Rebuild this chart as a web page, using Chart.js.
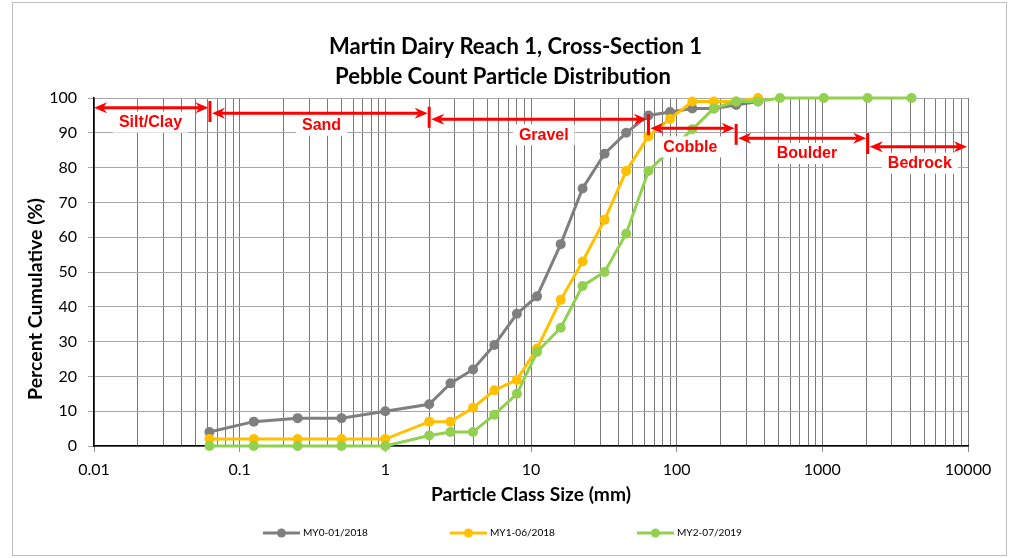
<!DOCTYPE html>
<html>
<head>
<meta charset="utf-8">
<script src="https://cdn.jsdelivr.net/npm/chart.js@4.4.1/dist/chart.umd.min.js"></script>
<style>
html,body{margin:0;padding:0;background:#fff;}
#wrap{width:1009px;height:558px;position:relative;}
canvas{display:block;}
</style>
</head>
<body>
<div id="wrap"><canvas id="c" width="1009" height="558"></canvas></div>
<script>
// ---- data ----
const sizes = [0.062, 0.125, 0.25, 0.5, 1, 2, 2.8, 4, 5.6, 8, 11, 16, 22.6, 32, 45, 64, 90, 128, 180, 256, 362, 512, 1024, 2048, 4096];
const my0 = [4, 7, 8, 8, 10, 12, 18, 22, 29, 38, 43, 58, 74, 84, 90, 95, 96, 97, 97, 98, 99, null, null, null, null];
const my1 = [2, 2, 2, 2, 2, 7, 7, 11, 16, 19, 28, 42, 53, 65, 79, 89, 94, 99, 99, 99, 100, null, null, null, null];
const my2 = [0, 0, 0, 0, 0, 3, 4, 4, 9, 15, 27, 34, 46, 50, 61, 79, 85, 91, 97, 99, 99, 100, 100, 100, 100];
const seriesNames = ['MY0-01/2018', 'MY1-06/2018', 'MY2-07/2019'];
const xTickLabels = ['0.01', '0.1', '1', '10', '100', '1000', '10000'];
const yTickValues = [0, 10, 20, 30, 40, 50, 60, 70, 80, 90, 100];
const classNames = ['Silt/Clay', 'Sand', 'Gravel', 'Cobble', 'Boulder', 'Bedrock'];
const classBounds = [0.01, 0.0625, 2, 64, 256, 2048, 10000];
const titleLines = ['Martin Dairy Reach 1, Cross-Section 1', 'Pebble Count Particle Distribution'];
const xTitle = 'Particle Class Size (mm)';
const yTitle = 'Percent Cumulative (%)';

// ---- styles ----
const colors = ['#7f7f7f', '#ffc000', '#92d050'];
const annotStyle = {
  arrowY: [97.2, 95.6, 93.9, 91.3, 88.4, 86.0],
  labelY: [93.2, 92.3, 89.6, 86.1, 84.2, 81.4],
  labelDx: [-1.5, 2, 5, -2, 5, 2],
  color: '#ff0000',
  font: 'bold 16px "Liberation Sans", Arial, sans-serif'
};
const FONT = 'Lato, "Open Sans", sans-serif';

const mctx = document.createElement('canvas').getContext('2d');
function fitSize(text, weight, target) {
  mctx.font = weight + ' 100px ' + FONT;
  return 100 * target / mctx.measureText(text).width;
}
const titleSize = fitSize(titleLines[0], 'bold', 373);
const axisTitleSize = fitSize(xTitle, 'bold', 200);
const yTitleSize = fitSize(yTitle, 'bold', 202);
const legendSize = fitSize(seriesNames[0], 'normal', 65);

// grid values for log axis (1..9 per decade)
const xGridValues = [];
for (let e = -2; e <= 3; e++) {
  for (let m = 1; m <= 9; m++) xGridValues.push({ value: m * Math.pow(10, e), major: m === 1, dec: e + 2 });
}
xGridValues.push({ value: 10000, major: true, dec: 6 });

function pts(arr) {
  const out = [];
  arr.forEach((v, i) => { if (v !== null) out.push({ x: sizes[i], y: v }); });
  return out;
}
const seriesData = [my0, my1, my2];

const decorPlugin = {
  id: 'decor',
  afterDatasetsDraw(chart) {
    const ctx = chart.ctx, xs = chart.scales.x, ys = chart.scales.y;
    const s = annotStyle;
    ctx.save();
    ctx.font = s.font;
    const px = classBounds.map(v => xs.getPixelForValue(v));
    const labels = classNames.map((n, i) => {
      const cx = (px[i] + px[i + 1]) / 2 + s.labelDx[i];
      const cy = ys.getPixelForValue(s.labelY[i]);
      const w = ctx.measureText(n).width;
      return { n, cx, cy, w };
    });
    ctx.fillStyle = '#ffffff';
    labels.forEach(l => ctx.fillRect(l.cx - l.w / 2 - 6, l.cy - 10, l.w + 12, 21));
    ctx.fillStyle = s.color;
    ctx.strokeStyle = s.color;
    const L = 13, W = 5.5, N = 4;
    function head(tip, y, dir) {
      ctx.beginPath();
      ctx.moveTo(tip, y);
      ctx.lineTo(tip - dir * L, y - W);
      ctx.lineTo(tip - dir * (L - N), y);
      ctx.lineTo(tip - dir * L, y + W);
      ctx.closePath();
      ctx.fill();
    }
    classNames.forEach((n, i) => {
      const y = ys.getPixelForValue(s.arrowY[i]);
      const x1 = px[i] + (i === 0 ? 0 : 2);
      const x2 = px[i + 1] - (i === classNames.length - 1 ? 1 : 1.5);
      ctx.lineWidth = 3;
      ctx.beginPath();
      ctx.moveTo(x1 + L - N, y);
      ctx.lineTo(x2 - L + N, y);
      ctx.stroke();
      head(x1, y, -1);
      head(x2, y, 1);
    });
    for (let i = 1; i < classBounds.length - 1; i++) {
      const yc = (ys.getPixelForValue(s.arrowY[i - 1]) + ys.getPixelForValue(s.arrowY[i])) / 2 + 1;
      ctx.lineWidth = 3;
      ctx.beginPath();
      ctx.moveTo(px[i], yc - 10.5);
      ctx.lineTo(px[i], yc + 10.5);
      ctx.stroke();
    }
    ctx.textAlign = 'center';
    ctx.textBaseline = 'middle';
    labels.forEach(l => ctx.fillText(l.n, l.cx, l.cy + 1));
    ctx.restore();
  },
  afterDraw(chart) {
    const ctx = chart.ctx;
    ctx.save();
    ctx.strokeStyle = '#bfbfbf';
    ctx.lineWidth = 1;
    ctx.strokeRect(12.5, 2.5, 994, 553);
    ctx.fillStyle = '#000';
    ctx.font = 'bold ' + titleSize.toFixed(2) + 'px ' + FONT;
    ctx.textAlign = 'center';
    ctx.textBaseline = 'alphabetic';
    ctx.fillText(titleLines[0], 515.5, 53.5);
    ctx.fillText(titleLines[1], 503, 83.5);
    ctx.save();
    ctx.translate(36, 299);
    ctx.rotate(-Math.PI / 2);
    ctx.font = 'bold ' + yTitleSize.toFixed(2) + 'px ' + FONT;
    ctx.textBaseline = 'middle';
    ctx.fillText(yTitle, 0, 0);
    ctx.restore();
    const lx = [263, 450, 637];
    const ly = 533;
    ctx.font = legendSize.toFixed(2) + 'px ' + FONT;
    ctx.textAlign = 'left';
    ctx.textBaseline = 'middle';
    seriesNames.forEach((n, i) => {
      ctx.strokeStyle = colors[i];
      ctx.fillStyle = colors[i];
      ctx.lineWidth = 3;
      ctx.beginPath();
      ctx.moveTo(lx[i], ly);
      ctx.lineTo(lx[i] + 37, ly);
      ctx.stroke();
      ctx.beginPath();
      ctx.arc(lx[i] + 18.5, ly, 4.5, 0, Math.PI * 2);
      ctx.fill();
      ctx.fillStyle = '#000';
      ctx.fillText(n, lx[i] + 40, ly);
    });
    ctx.restore();
  }
};

const chart = new Chart(document.getElementById('c'), {
  type: 'line',
  data: {
    datasets: seriesNames.map((n, i) => ({
      label: n,
      data: pts(seriesData[i]),
      borderColor: colors[i],
      backgroundColor: colors[i],
      pointBackgroundColor: colors[i],
      pointBorderColor: colors[i],
      pointRadius: 5,
      pointBorderWidth: 0,
      borderWidth: 3,
      tension: 0,
      fill: false,
      clip: false,
      order: 3 - i
    }))
  },
  options: {
    responsive: false,
    animation: false,
    layout: { padding: { top: 98, right: 41, bottom: 50, left: 0 } },
    plugins: { legend: { display: false }, title: { display: false }, tooltip: { enabled: false } },
    scales: {
      x: {
        type: 'logarithmic',
        min: 0.01,
        max: 10000,
        afterBuildTicks: (s) => { s.ticks = xGridValues.map(t => ({ value: t.value, major: t.major, dec: t.dec })); },
        afterFit: (s) => { s.height = 62; },
        ticks: {
          autoSkip: false,
          maxRotation: 0,
          minRotation: 0,
          padding: 8,
          color: '#000',
          font: { family: FONT, size: 16 },
          callback: function (v, i, ticks) { const t = ticks[i]; return t.major ? xTickLabels[t.dec] : ''; }
        },
        grid: {
          color: '#7a7a7a',
          lineWidth: 1,
          tickLength: 6,
          tickColor: (c) => (c.tick && c.tick.major) ? '#8c8c8c' : 'rgba(0,0,0,0)'
        },
        border: { color: '#000', width: 1.5 },
        title: {
          display: true,
          text: xTitle,
          color: '#000',
          font: { family: FONT, size: axisTitleSize, weight: 'bold' },
          padding: { top: 0, bottom: 2 }
        }
      },
      y: {
        min: 0,
        max: 100,
        afterBuildTicks: (s) => { s.ticks = yTickValues.map(v => ({ value: v })); },
        afterFit: (s) => { s.width = 94; },
        ticks: { color: '#000', padding: 11, font: { family: FONT, size: 16 } },
        grid: { color: '#a6a6a6', lineWidth: 1, tickLength: 6, tickColor: '#a6a6a6' },
        border: { color: '#000', width: 1.5 }
      }
    }
  },
  plugins: [decorPlugin]
});
</script>
</body>
</html>
